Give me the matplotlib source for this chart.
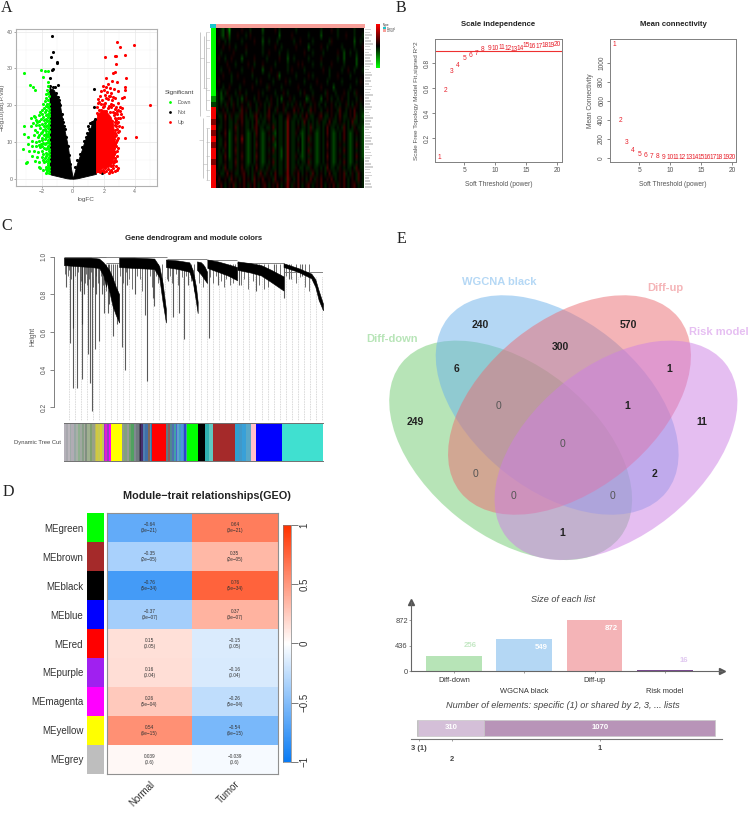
import numpy as np
import matplotlib
matplotlib.use('Agg')
import matplotlib.pyplot as plt
from matplotlib.colors import LinearSegmentedColormap, ListedColormap
from matplotlib.lines import Line2D
from matplotlib.patches import Ellipse
from matplotlib.transforms import ScaledTranslation

plt.rcParams['font.family'] = ['Liberation Sans', 'DejaVu Sans']

W, H = 753, 813

# A volcano, values
black_pts = [(-1.31,38.8),(-1.29,34.4),(-1.42,33.2),(-0.99,31.6),(-1.02,31.4),(-1.25,29.8),(-1.33,29.6),(-1.46,27.3),
             (-1.46,25.2),(-0.92,25.5),(-1.15,25),(-1.3,24.8),(-1.45,23.6),(-1.22,23),(-1.05,23.4),(-0.98,22.2),(-1.4,22),(-1.35,21.2),
             (-1.12,22.4),(-1.28,22.2),(-0.88,21.4),(-0.8,20),(-0.72,17.6),(-0.62,15.4),(-0.52,13.4),(-0.42,11.2),(-0.32,9),
             (-0.24,6.4),(-0.16,4),(-0.66,16.2),(-0.86,20.6),(-0.58,14.4),
             (1.4,24.3),(1.4,19.6),(0.97,14.3),(1.22,15.5),(1.1,15),(1.9,1.4),(1.35,15.6),(1.45,16.2),(0.9,12.4),(1.25,14.8),
             (0.75,10.2),(0.6,8.6),(0.45,6.6),(0.3,5),(0.18,3.2),(1.05,13.4),(0.85,11.4)]
green_pts = [(-3.12,28.6),(-2.06,29.6),(-1.57,29.4),(-1.78,29.2),(-1.89,27.6),(-1.6,26.2),(-2.75,25.4),(-2.56,25),(-2.43,24),
             (-1.6,25.1),(-1.68,24),(-1.62,23.4),(-1.75,23),(-1.55,22.6),(-1.7,22),(-1.58,21.4),(-1.8,21),(-1.9,20.4),(-1.64,20.2),
             (-3.14,14.3),(-3.14,12.1),(-2.88,11.2),(-3.2,8),(-3,4.3),(-2.92,4.6),(-2.7,16.4),(-2.5,17),(-2.42,16.8),(-2.35,16),(-2.55,15.2),
             (-2.7,14.2),(-2.4,14.6),(-2.2,17.2),(-2.1,18.2),(-2,18.8),(-1.85,19.2),(-1.7,18.6),(-1.6,19.6),(-1.55,18.4),(-1.95,17.6),
             (-1.75,17.4),(-1.6,16.8),(-2.05,16.2),(-1.85,16),(-1.65,15.6),(-1.55,15),(-1.95,14.8),(-2.2,14.6),(-1.75,14.4),(-1.6,13.8),
             (-2.1,13.8),(-1.9,13.2),(-1.7,13),(-1.55,12.6),(-2.3,12.8),(-2.05,12.4),(-1.85,12),(-1.65,11.6),(-2.5,11.8),(-2.25,11.4),
             (-2,11),(-1.8,10.8),(-1.58,10.6),(-2.6,10.2),(-2.35,10),(-2.15,10.2),(-1.9,9.8),(-1.7,9.6),(-1.55,9.2),(-2.65,9),(-2.4,8.8),
             (-2.1,8.6),(-1.85,8.4),(-1.65,8.2),(-2.8,7.6),(-2.5,7.4),(-2.25,7.2),(-2,7.4),(-1.75,7),(-1.55,6.8),(-2.6,6.2),(-2.3,5.8),
             (-2,6),(-1.8,5.6),(-1.62,5.4),(-2.45,4.8),(-2.15,4.6),(-1.85,4.4),(-1.58,4.2),(-2.2,3.2),(-2.1,3),(-1.75,3.2),(-1.58,2.8),
             (-1.9,2.4),(-1.65,2.2),(-1.55,1.6),(-1.7,1.4),(-2.3,15.4),(-2.15,15.6),(-1.72,16.2),(-1.8,13.6),(-1.6,12.2),(-1.7,11.4),
             (-1.55,8),(-1.72,6.2),(-1.55,5.8),(-1.62,3.6),(-1.6,17.6),(-1.7,19.8),(-1.52,20.4),(-2.9,9.4),(-2.45,13.2),(-2.2,9.2),
             (-1.52,19.2),(-1.56,17.6),(-1.8,18),(-1.9,16.8),(-1.52,16),(-1.78,15.2),(-1.62,14.6),(-1.52,14),(-1.88,14.2),(-1.72,12.2),
             (-1.52,11.4),(-1.95,10.4),(-1.62,10),(-1.52,10),(-1.8,9.4),(-1.62,9),(-1.95,8.8),(-1.75,8),(-1.52,7.4),(-1.9,6.8),(-1.65,6.6),
             (-1.52,4.8),(-1.7,4.8),(-1.9,5),(-1.52,3.2),(-1.7,2.6),(-1.52,2.4),(-2,12.8),(-2.15,11.8),(-1.52,13),(-2.05,9.4),(-1.52,17)]
red_pts = [(2.84,37.1),(3.97,36.4),(3.08,35.8),(3.36,33.5),(2.06,33.1),(2.7,33.3),(2.78,33.3),(2.8,31.3),(2.7,29),(2.62,28.6),
           (3.45,27.5),(2.18,27.3),(2.85,26.3),(2.55,26.5),(4.97,19.9),(4.1,11.3),(3.36,11),(3.4,25),(2.3,25.8),(2.15,25),(1.95,25.2),
           (2.4,24.6),(2.65,24.4),(2.05,24),(1.85,23.9),(2.2,23.6),(3.35,24),(2.9,23.8),(2.5,23.2),(1.75,22.6),(2.08,22.8),(2.35,22.4),
           (3.3,22.3),(3.2,22),(2.75,22),(1.65,21.6),(1.9,21.4),(2.25,21.6),(2.55,21.4),(1.6,20.6),(1.8,20.4),(2.1,20.6),(2.45,20.2),(2.9,20.6),
           (3.05,19.6),(3.2,19.2),(1.55,19.6),(1.95,19.4),(2.3,19.2),(2.7,19),(3.02,18.4),(1.7,18.6),(2.15,18.4),(2.6,18.2),(2.85,17.6),
           (3.25,16.8),(3.02,16.6),(2.72,16.4),(2.85,15.2),(3.0,14.4),(3.2,14),(2.7,14.6),(2.75,13.2),(2.9,12.6),(2.7,11.6),(2.85,10.4),
           (2.65,10),(2.8,9),(2.68,8.4),(2.75,7.2),(2.62,6.2),(2.75,5.6),(2.8,4.8),(2.68,4.4),(2.8,3.4),(2.85,2.4),(2.62,2.8),(2.45,3.4),
           (2.72,2),(2.4,2),(2.15,2.2),(2.0,1.8),(2.35,1.6),(2.55,1.8),(2.9,3),(2.7,15.4),(2.65,17.2),(2.75,17.8),(2.55,15.8),(2.62,12.4),
           (2.42,22.6),(2.6,22.2),(2.15,22),(1.72,20.8),(2,19.8),(2.5,19.4),(2.82,19.6),(2.95,18.8),(2.4,18.2),(2.85,18.4),(3.1,17.6),
           (2.9,16.4),(2.78,16),(2.95,15.4),(2.78,14.2),(2.88,13.6),(2.98,13),(2.72,12.4),(2.82,11.8),(2.95,11),(2.68,10.8),(2.78,10),
           (2.9,8.4),(2.72,9.4),(2.85,7.6),(2.68,6.8),(2.85,6.2),(2.72,5),(2.62,4.4),(2.62,3.6),(2.3,2.6),(2.5,2.4),(2.1,2.8),(1.85,2.2),
           (1.6,2),(1.75,1.8),(1.95,2.4),(2.35,19.8),(1.85,18.8),(1.55,17.8),(1.65,17.4),(2.05,20.2),(2.6,20)]
# dense parts of the clouds: x, upper edge, lower edge
black_left_x = [-1.5, -1.4, -1.3, -1.2, -1.1, -1.0, -0.9, -0.8, -0.7, -0.6, -0.5, -0.4, -0.3, -0.2, -0.1, 0.0]
black_left_hi = [25, 24.4, 24.4, 24, 23, 22.4, 21, 19.4, 16.8, 14.6, 12.6, 10.6, 8.4, 5.2, 2.6, 0.2]
black_left_lo = [1.3, 1.1, 1.0, 0.9, 0.8, 0.7, 0.6, 0.5, 0.4, 0.3, 0.2, 0.1, 0.05, 0.0, 0.0, 0.0]
black_right_x = [0.0, 0.1, 0.2, 0.3, 0.4, 0.5, 0.6, 0.7, 0.8, 0.9, 1.0, 1.1, 1.2, 1.3, 1.4, 1.5]
black_right_hi = [0.2, 1.5, 3, 4.4, 5.6, 6.8, 8, 9.4, 10.6, 11.8, 12.6, 13.4, 14.4, 15, 15.6, 16.2]
black_right_lo = [0.0, 0.0, 0.05, 0.1, 0.2, 0.3, 0.4, 0.5, 0.6, 0.7, 0.8, 0.9, 1.0, 1.1, 1.2, 1.3]
red_x = [1.5, 1.7, 1.9, 2.1, 2.3, 2.45, 2.6, 2.7]
red_hi = [16.2, 18, 18.8, 18.6, 17.6, 16.8, 15, 11]
red_lo = [1.6, 2.2, 2.8, 3, 3.2, 3.6, 5, 7]
volcano_xticks = [-2, 0, 2, 4]
volcano_yticks = [0, 10, 20, 30, 40]
significant = ['Down', 'Not', 'Up']

# A heatmap, read as coarse cells: G g , . ' r R  from green to red
heat_levels = {'G': -1.0, 'g': -0.55, ',': -0.24, '.': 0.0, "'": 0.22, 'r': 0.5, 'R': 0.95}
heat_rows = [
 "G..,g.,G.....'...,.....g.....'.,.......,...........,....'..,.......,....",
 "G..,g.'g...'...,.'.....,.......g.....'.......,.....g.......,...'...,...,",
 "G.'..,.,.....,.....'...g..,...,.......,..'.....,.......,'..........g..,.",
 "G...'..'..,....'.......,.....'..,......'.....g.....'..,......,.....,...'",
 "G..,.....'.....,.......,..'....,...,.......'...,....,......'..g..,..,...",
 "G.'..,..'....g.....'.....,.....'...g..,......,.....'.......,..g.....g...",
 "G.....'...,.....'..,...'.....,.....,....'.'....,...,....'.....,.....g...",
 "G..,...'.....,....'....g...'.......,.'.....,........'..,.....,..'..,...,",
 "G...'...,..'......,.......,...'g.......,.....'.,.......,...'.....,......",
 "G.'.....,.....'.....,.'.....,.....'.,......,.....'....,......,......,.'.",
 "G...,..'....,.....'......,'.....,.......'.....,....'.....g.......,......",
 "G,.g.,'...,.'..,.....'.,.....,...'.,.....,.'...,.....,'...,...'.,..,'...",
 "g,.g,..',..,.g.'...,.'...,.'..,.g...'.,.....g,.'...g..'.,..,.'..,...,.'.",
 ",,.,.,'.,'.,.'..,'..,.'.,.,'..,..'.,.,.'.,.'..,.'.,..,..'.,.,..',.,.'.,.",
 "R,..'.,..'..,r.'.,..,'..,.r..,'..',...r.'.,..,r.'..,..'.'..,r..,.'.r..,,",
 "R.,,.r.,'.,,'r.,.,,'r.,.,'r.,..,,..r'.,,.,'.r.,,..'r.,,.'.,.r.,,.'.r,.,g",
 "r..,.'.,,.,'.r.,,.,.r,.,,.'.,,.,,.,R.,,.,.,r.,.,.,'.,,.r.,,.'.,.,.r,,.,,",
 "R.,,.'.,,.r,.'.,,.,'r.,,.,,.r,.,,.,R.,,.'.,,.,r,.,,.,.r.,,.,.,r.,.,'.,,g",
 "r.,..r.g,.',.'.,g,.,r.,g,.'.,g.,,.,R.,,'.,g,.,'.,g,.,.r.,g,.,.r.,g,.'.,g",
 "R.,,.'.g,.r,.R.,g,.,'.,g,.,.r,.,,.,R.,,.,.g,.r,.,g,.,.'.,g,.,.r.,g,.,.,g",
 "r.,,.r.g,.',.'.,g,.,r.,g,.'.,g.,,.,R.,,.'.g,.,'.,g,.,.r.,g,.'.,.,g,.r.,g",
 "R.,.,'.g,.r,.'.,g,.,'.,g,.,.r,.,g.,R.,,.,.g,.r,.,g,.,.'.,g,.,.r.,g,.,.,g",
 "R.,,.r.g,.',.r.,g,.,r.,g,.'.,,.,g.,R.,,'.,g,.,'.,g,.,.r.,g,.'.,.,g,.r.,g",
 "r.,,.'.,,.r,.'.,g,.,'.,g,.,.r,.,,.,R.,,.,.,,.r,.,g,.,.'.,g,.,.r.,g,.,.,,",
 "R.,.,r.,,.',.r.,,.,.r.,,.,'.,,.,,.,R.,,'.,,.,,'.,,.,.,r.,,.,'.,.,,.,r.,,",
 "R'.,,.r.'.,,.'r.,.,'.,r.,'.,.r.,,.'R.,'.r.,.'.,r.,.'.,.r.,,.'.r,.,'.,r.,",
 "R.r..'.,r.'.,.r.'.,r.'.r..'.,r..'.,R'.,.r.'.,.r.,'.r..'.r.,.'.r.,.'.,r.,",
 "R'.r.,.'.r,.'.r.,'.r.,.'r.,.'.r.,.'R.,'.r.,.'r.,.'.r.,.'.r.,'.r.,.'r.,.,",
]
row_label_len = [6, 5, 7, 4, 6, 8, 5, 6, 4, 7, 5, 6, 8, 5, 4, 6, 7, 5, 6, 4, 7, 6, 5, 8, 4, 6, 5, 7, 6, 4,
                 5, 8, 6, 5, 7, 4, 6, 5, 7, 6, 8, 4, 5, 6, 7, 5, 4, 6, 8, 5, 6, 7, 4, 5, 6, 7]

# B soft threshold
powers = list(range(1, 21))
sft_r2 = [0.045, 0.58, 0.736, 0.786, 0.84, 0.866, 0.882, 0.912, 0.92, 0.917,
          0.928, 0.917, 0.912, 0.92, 0.944, 0.936, 0.936, 0.946, 0.946, 0.95]
mean_k = [1194, 390, 161, 74, 39, 21, 14, 10, 7, 5, 4, 3, 2.5, 2, 1.5, 1, 1, 1, 1, 1]

# C dendrogram: each cluster is x, top edge, bottom edge of the black band
clusters = [
    ([0, 40, 80, 105, 118, 126], [0.995, 0.995, 0.995, 0.99, 0.97, 0.95], [0.955, 0.95, 0.945, 0.94, 0.90, 0.84]),
    ([122, 135, 145, 155, 165], [0.96, 0.93, 0.89, 0.84, 0.80], [0.90, 0.82, 0.74, 0.69, 0.65]),
    ([165, 210, 270, 285, 295, 305], [0.995, 0.995, 0.99, 0.95, 0.86, 0.72], [0.945, 0.94, 0.935, 0.89, 0.76, 0.65]),
    ([305, 340, 375, 385, 395, 400], [0.985, 0.98, 0.97, 0.93, 0.84, 0.76], [0.945, 0.935, 0.92, 0.87, 0.76, 0.70]),
    ([398, 410, 420, 428], [0.975, 0.97, 0.95, 0.92], [0.93, 0.905, 0.88, 0.86]),
    ([429, 460, 490, 518], [0.985, 0.975, 0.96, 0.945], [0.94, 0.92, 0.90, 0.875]),
    ([519, 560, 590, 620, 657], [0.975, 0.965, 0.955, 0.93, 0.895], [0.93, 0.915, 0.90, 0.865, 0.82]),
    ([657, 700, 740, 752, 762, 775], [0.965, 0.94, 0.91, 0.88, 0.82, 0.75], [0.945, 0.92, 0.885, 0.84, 0.77, 0.715]),
]
branch_x = [6, 19, 26, 28, 38, 47, 53, 55, 59, 72, 78, 84, 92, 97, 105, 113, 121, 131, 135, 147, 160, 174, 182, 190, 211,
            243, 249, 268, 267, 312, 327, 345, 359, 372, 433, 462, 525, 575, 627, 657, 672, 712]
branch_h = [0.84, 0.54, 0.30, 0.62, 0.30, 0.82, 0.64, 0.35, 0.80, 0.48, 0.33, 0.18, 0.51, 0.80, 0.55, 0.80, 0.70, 0.70,
            0.75, 0.58, 0.64, 0.52, 0.40, 0.85, 0.80, 0.69, 0.34, 0.74, 0.78, 0.87, 0.68, 0.70, 0.56, 0.85, 0.57, 0.85,
            0.85, 0.82, 0.87, 0.78, 0.88, 0.90]
# short drops that fringe the bands
fringe_x = [3, 11, 15, 22, 33, 42, 50, 63, 67, 70, 76, 81, 88, 95, 101, 110, 116, 125, 140, 153, 169, 178, 186, 195, 203, 218,
            226, 234, 256, 262, 275, 282, 293, 309, 316, 322, 335, 341, 352, 366, 380, 390, 404, 416, 436, 445, 455, 470,
            478, 486, 497, 505, 512, 530, 540, 552, 566, 583, 597, 610, 634, 645, 664, 680, 695, 705, 722, 733]
fringe_h = [0.91, 0.9, 0.93, 0.88, 0.9, 0.92, 0.87, 0.86, 0.91, 0.85, 0.88, 0.92, 0.84, 0.9, 0.86, 0.9, 0.85, 0.82, 0.8,
            0.76, 0.9, 0.86, 0.92, 0.88, 0.83, 0.9, 0.88, 0.82, 0.9, 0.84, 0.9, 0.86, 0.8, 0.88, 0.9, 0.86, 0.91, 0.85, 0.89,
            0.9, 0.87, 0.82, 0.86, 0.84, 0.89, 0.86, 0.9, 0.87, 0.84, 0.88, 0.85, 0.86, 0.88, 0.85, 0.88, 0.83, 0.87, 0.85,
            0.83, 0.84, 0.87, 0.85, 0.9, 0.88, 0.86, 0.89, 0.84, 0.82]
# merge lines across the top: x start, x end, height
merge_x0 = [0, 127, 105, 307, 429, 519, 657]
merge_x1 = [127, 165, 307, 429, 519, 657, 775]
merge_h = [0.998, 0.968, 0.998, 0.99, 0.98, 0.968, 0.92]
module_widths = [6, 5, 6, 5, 7, 5, 7, 6, 5, 6, 5, 5, 8, 6, 8, 5, 6, 6, 6, 5, 3, 5, 5, 2, 5, 31, 8, 7, 7, 7, 8, 7, 8, 2, 3, 5, 8, 8, 5, 5, 2, 41,
           5, 6, 5, 6, 6, 5, 6, 5, 5, 5, 4, 3, 32, 22, 11, 12, 65, 11, 10, 12, 12, 15, 78, 120]
module_colors = ['#b4b0b8', '#a8a8ae', '#bab6bc', '#a0aaa8', '#b0acb4', '#98a8a4', '#a8b0a8', '#90b090', '#a0a8a0',
                 '#88a088', '#a8a8a0', '#809080', '#a0b090', '#80a070', '#98a088', '#b8b860', '#d0c840', '#c8c850', '#d8d820', '#c0c860',
                 '#a030d0', '#e020d0', '#9040c0', '#e030e0', '#ff00ff', '#ffff00', '#909890', '#80a080', '#989898', '#70a070',
                 '#50a060', '#808890', '#707880', '#505060', '#302040', '#483070', '#5080b0', '#4070a8', '#806858', '#4890b8', '#3070a0', '#ff0000',
                 '#607880', '#905858', '#508890', '#5070b0', '#40a0a8', '#5060d0', '#60a0d0', '#40a0c0', '#5090e0', '#4090c0', '#3040d0', '#40a0a0', '#00ff00',
                 '#000000', '#30b0b0', '#60c8c0', '#a52a2a', '#30a0d0', '#4098c8', '#38a0d8', '#58a8c8', '#ffc0cb', '#0000ff', '#40e0d0']

# D module-trait table
modules = ['MEgreen', 'MEbrown', 'MEblack', 'MEblue', 'MEred', 'MEpurple', 'MEmagenta', 'MEyellow', 'MEgrey']
strip_colors = ['#00ff00', '#a52a2a', '#000000', '#0000ff', '#ff0000', '#a020f0', '#ff00ff', '#ffff00', '#bebebe']
traits = ['Normal', 'Tumor']
cor_normal = [-0.64, -0.35, -0.76, -0.37, 0.15, 0.16, 0.26, 0.54, 0.039]
cor_tumor = [0.64, 0.35, 0.76, 0.37, -0.15, -0.16, -0.26, -0.54, -0.039]
pvalues = ['3e\u221221', '2e\u221205', '5e\u221234', '3e\u221207', '0.05', '0.04', '5e\u221204', '6e\u221215', '0.6']
cbar_ticks = [-1, -0.5, 0, 0.5, 1]

# E venn
venn_names = ['Diff-down', 'WGCNA black', 'Diff-up', 'Risk model']
venn_counts = [249, 240, 570, 11, 6, 300, 1, 0, 1, 0, 0, 2, 0, 0, 1]
venn_count_x = [197, 390, 835, 1055, 319, 630, 958, 445, 832, 638, 376, 912, 490, 787, 638]
venn_count_y = [575, 284, 284, 575, 418, 350, 418, 529, 529, 641, 731, 731, 798, 798, 909]
list_sizes = [256, 549, 872, 16]
shared_labels = ['3 (1)', '2', '1']
shared_counts = [1, 310, 1070]


def add_ax(x0, y0, x1, y1):
    return fig.add_axes([x0 / W, 1 - y1 / H, (x1 - x0) / W, (y1 - y0) / H])


def put(x, y, s, **kw):
    kw.setdefault('ha', 'center')
    kw.setdefault('va', 'center')
    fig.text(x / W, 1 - y / H, s, **kw)


def r_axes(ax, color='#808080'):
    for s in ax.spines.values():
        s.set_color(color)
        s.set_linewidth(0.7)
    ax.tick_params(colors='#555555', labelsize=4.8, width=0.5, length=2, pad=1.5)
    for lab in ax.get_yticklabels():
        lab.set_rotation(90)
        lab.set_va('center')


fig = plt.figure(figsize=(W / 100, H / 100), dpi=100)

for letter, x, y in [('A', 7, 8), ('B', 401, 8), ('C', 7, 226), ('D', 8, 492), ('E', 401, 239)]:
    put(x, y, letter, family='Liberation Serif', fontsize=11.5, color='#222222')

# ---- A volcano
ax = add_ax(16, 29, 157, 186)
ax.set_xlim(-3.66, 5.44)
ax.set_ylim(-2, 40.7)
ax.set_xticks(volcano_xticks)
ax.set_yticks(volcano_yticks)
ax.set_xticks([-3, -1, 1, 3, 5], minor=True)
ax.set_yticks([5, 15, 25, 35], minor=True)
ax.grid(True, which='major', color='#e8e8e8', lw=0.5)
ax.grid(True, which='minor', color='#f2f2f2', lw=0.3)
ax.set_axisbelow(True)
ax.fill_between(black_left_x, black_left_lo, black_left_hi, color='black', lw=0.6, zorder=2)
ax.fill_between(black_right_x, black_right_lo, black_right_hi, color='black', lw=0.6, zorder=2)
ax.fill_between(red_x, red_lo, red_hi, color='#ff0000', lw=0.6, zorder=2)
for pts, c in [(black_pts, 'black'), (green_pts, '#00ff00'), (red_pts, '#ff0000')]:
    p = np.array(pts)
    ax.scatter(p[:, 0], p[:, 1], s=5, c=c, lw=0, zorder=3)
for s in ax.spines.values():
    s.set_color('#b0b0b0')
    s.set_linewidth(0.8)
ax.tick_params(which='major', colors='#666666', labelsize=3.8, width=0.4, length=1.5, pad=1)
ax.tick_params(which='minor', length=0)
ax.set_xlabel('logFC', fontsize=4.6, color='#555555', labelpad=1.5)
ax.set_ylabel('\u2212log10(adj.P.Val)', fontsize=4.6, color='#555555')
ax.yaxis.set_label_coords(-0.078, 0.5)
handles = [Line2D([], [], ls='', marker='o', ms=2, mec='none', mfc=c) for c in ['#00ff00', 'black', '#ff0000']]
leg = fig.legend(handles, significant, title='Significant', loc='upper left', bbox_to_anchor=(165 / W, 1 - 90 / H),
                 frameon=False, fontsize=3.8, title_fontsize=4.6, labelspacing=0.95, handletextpad=0.3,
                 borderpad=0, borderaxespad=0, labelcolor='#555555')
leg._legend_box.align = 'left'
leg.get_title().set_color('#444444')

# ---- A heatmap
ax = add_ax(210, 24.3, 364, 27.7)
ax.imshow([[0] * 1 + [1] * 25], aspect='auto', cmap=ListedColormap(['#19c5cc', '#f8a09a']))
ax.axis('off')
heat = np.array([[heat_levels[c] for c in row[:72].ljust(72, '.')] for row in heat_rows])
heat_cmap = LinearSegmentedColormap.from_list('gbr', ['#00ff00', '#000000', '#ff0000'])
ax = add_ax(211, 28, 216, 188.3)
ax.imshow(heat[:, :1], aspect='auto', cmap=heat_cmap, vmin=-1, vmax=1, interpolation='nearest')
ax.axis('off')
ax = add_ax(216, 28, 364, 188.3)
ax.imshow(heat[:, 1:], aspect='auto', cmap=heat_cmap, vmin=-2, vmax=2, interpolation='bilinear')
ax.axis('off')
ax = add_ax(365, 28, 373, 188.3)
ax.barh(range(len(row_label_len)), row_label_len, height=0.55, color='#d2d2d2')
ax.set_xlim(0, 8)
ax.set_ylim(len(row_label_len) - 0.5, -0.5)
ax.axis('off')
# row tree
ax = add_ax(199, 28, 210, 188.3)
ax.set_xlim(0, 11)
ax.set_ylim(160, 0)
ax.hlines([4, 12, 20, 34, 50, 62, 72, 82, 88, 100, 114, 128, 142, 152], 7, 11, color='#c0c0c0', lw=0.4)
ax.hlines([30, 112, 60, 136], [1, 0, 4, 4], [5, 4, 8, 8], color='#b8b8b8', lw=0.4)
ax.vlines([1, 5, 7, 4, 8], [4, 8, 4, 90, 100], [88, 60, 82, 150, 152], color='#b0b0b0', lw=0.5)
ax.axis('off')
ax = add_ax(376, 24, 380, 68)
ax.imshow(np.linspace(1, -1, 50).reshape(-1, 1), aspect='auto', cmap=heat_cmap)
ax.axis('off')
put(383, 25, 'Type', fontsize=2.2, color='#333333', ha='left')
ax = add_ax(383, 27, 386, 32.5)
ax.imshow([[0], [1]], aspect='auto', cmap=ListedColormap(['#19c5cc', '#f8a09a']))
ax.axis('off')
put(387, 28.5, 'Normal', fontsize=2, color='#555555', ha='left')
put(387, 31, 'Tumor', fontsize=2, color='#555555', ha='left')

# ---- B
ax = add_ax(435.3, 39.3, 561.7, 162.3)
ax.set_xlim(0.32, 20.7)
ax.set_ylim(0.008, 0.992)
for p, v in zip(powers, sft_r2):
    ax.text(p, v, str(p), color='#e8212c', fontsize=4.8, ha='center', va='center')
ax.axhline(0.9, color='#ee3030', lw=0.8)
ax.set_xticks([5, 10, 15, 20])
ax.set_yticks([0.2, 0.4, 0.6, 0.8])
r_axes(ax)
ax.set_title('Scale independence', fontsize=5.6, fontweight='bold', color='#222222', pad=9.5)
ax.set_xlabel('Soft Threshold (power)', fontsize=4.8, color='#555555', labelpad=5)
ax.set_ylabel('Scale Free Topology Model Fit,signed R^2', fontsize=4.6, color='#555555', labelpad=3)

ax = add_ax(610, 39.3, 736.3, 162.3)
ax.set_xlim(0.27, 20.7)
ax.set_ylim(-48, 1246)
for p, v in zip(powers, mean_k):
    ax.text(p, v, str(p), color='#e8212c', fontsize=4.8, ha='center', va='center')
ax.set_xticks([5, 10, 15, 20])
ax.set_yticks([0, 200, 400, 600, 800, 1000])
r_axes(ax)
ax.set_title('Mean connectivity', fontsize=5.6, fontweight='bold', color='#222222', pad=9.5)
ax.set_xlabel('Soft Threshold (power)', fontsize=4.8, color='#555555', labelpad=5)
ax.set_ylabel('Mean Connectivity', fontsize=4.8, color='#555555', labelpad=3)

# ---- C dendrogram
ax = add_ax(64, 252, 323, 420.7)
ax.set_xlim(0, 775)
ax.set_ylim(0.128, 1.025)
ax.vlines(np.arange(15, 775, 18), 0.128, 0.9, color='#b4b4b4', lw=0.5, linestyles=(0, (1, 1.4)), zorder=1)
ax.vlines(branch_x, branch_h, 0.96, color='#333333', lw=0.8, alpha=0.8, zorder=2)
ax.vlines(fringe_x, fringe_h, 0.96, color='#333333', lw=0.7, alpha=0.7, zorder=2)
for bx, top, low in clusters:
    ax.fill_between(bx, low, top, color='black', lw=0.4, zorder=3)
ax.hlines(merge_h, merge_x0, merge_x1, color='#707070', lw=0.6, zorder=2)
ax.vlines([775], [0.72], [0.92], color='#707070', lw=0.6)
for name in ['top', 'right', 'bottom']:
    ax.spines[name].set_visible(False)
ax.spines['left'].set_position(('outward', 7))
ax.spines['left'].set_bounds(0.2, 1.0)
ax.spines['left'].set_color('#808080')
ax.spines['left'].set_linewidth(0.7)
ax.set_xticks([])
ax.set_yticks([0.2, 0.4, 0.6, 0.8, 1.0])
ax.tick_params(colors='#555555', labelsize=4.8, width=0.5, length=3, pad=1.5)
for lab in ax.get_yticklabels():
    lab.set_rotation(90)
    lab.set_va('center')
ax.set_ylabel('Height', fontsize=4.8, color='#555555', labelpad=3.5)
put(193.3, 238, 'Gene dendrogram and module colors', fontsize=5.6, fontweight='bold', color='#222222')

ax = add_ax(64, 423.3, 323, 461.3)
ax.bar(np.cumsum([0] + module_widths[:-1]), 1, width=module_widths, align='edge', color=module_colors, lw=0)
ax.set_xlim(0, sum(module_widths))
ax.set_ylim(0, 1)
ax.set_xticks([])
ax.set_yticks([])
for name in ['left', 'right']:
    ax.spines[name].set_visible(False)
for name in ['top', 'bottom']:
    ax.spines[name].set_color('#707070')
    ax.spines[name].set_linewidth(0.7)
put(61.5, 442.7, 'Dynamic Tree Cut', fontsize=4.2, color='#444444', ha='right')

# ---- D module trait
bwr = LinearSegmentedColormap.from_list('bwr2', ['#0a7cf5', '#ffffff', '#ff3300'])
ax = add_ax(106.7, 513.3, 277.7, 773.7)
table = np.column_stack([cor_normal, cor_tumor])
ax.pcolormesh(table, cmap=bwr, vmin=-1, vmax=1)
ax.set_ylim(len(modules), 0)
ax.set_yticks([])
ax.set_xticks([0.5, 1.5])
ax.set_xticklabels(traits, rotation=45, ha='right', va='top', fontsize=7, color='#333333', rotation_mode='anchor')
ax.tick_params(axis='x', length=0, pad=4)
for s in ax.spines.values():
    s.set_color('#909090')
    s.set_linewidth(0.8)
for i in range(len(modules)):
    for j, cors in enumerate([cor_normal, cor_tumor]):
        txt = str(cors[i]).replace('-', '\u2212') + '\n(' + pvalues[i] + ')'
        ax.text(j + 0.5, i + 0.5, txt, fontsize=3.4, color='#333333', ha='center', va='center', linespacing=1.25)

ax = add_ax(87.3, 513.3, 104, 773.7)
ax.bar(0, 1, bottom=range(len(modules)), width=1, color=strip_colors, lw=0)
ax.set_xlim(-0.5, 0.5)
ax.set_ylim(len(modules), 0)
ax.set_xticks([])
ax.set_yticks(np.arange(len(modules)) + 0.5)
ax.set_yticklabels(modules, fontsize=7, color='#333333')
ax.tick_params(axis='y', length=0, pad=3)
for s in ax.spines.values():
    s.set_visible(False)

ax = add_ax(283.3, 525, 290.7, 761.7)
ax.imshow(np.linspace(1, -1, 200).reshape(-1, 1), aspect='auto', cmap=bwr, extent=[0, 1, -1, 1])
ax.set_xticks([])
ax.yaxis.tick_right()
ax.set_yticks(cbar_ticks)
ax.set_yticklabels(['\u22121', '\u22120.5', '0', '0.5', '1'], rotation=90, va='center', fontsize=7, color='#333333')
ax.tick_params(axis='y', length=5, width=0.5, pad=1.5, color='#444444')
for s in ax.spines.values():
    s.set_color('#808080')
    s.set_linewidth(0.5)
put(206.7, 496, 'Module\u2212trait relationships(GEO)', fontsize=7.8, fontweight='bold', color='#222222')

# ---- E venn, drawn in the 3x zoom coordinates of the panel
ax = add_ax(350, 230, 753, 570)
ax.set_xlim(0, 1209)
ax.set_ylim(1020, 0)
ax.axis('off')
venn_colors = ['#71cb71', '#6bb1eb', '#eb6b71', '#cd7fe5']
label_colors = ['#b8e5b8', '#b5d8f5', '#f5b5b8', '#e6bff2']
centers = [(482, 661), (621.5, 525), (658.5, 525), (798, 661)]
angles = [38.6, 38.6, -38.6, -38.6]
for c, ang, col in zip(centers, angles, venn_colors):
    ax.add_patch(Ellipse(c, 838, 512, angle=ang, facecolor=col, edgecolor='none', alpha=0.5))
for name, x, y, col in zip(venn_names, [125, 448, 945, 1105], [328, 155, 173, 306], label_colors):
    ax.text(x, y, name, color=col, fontsize=8, fontweight='bold', ha='center', va='center')
for n, x, y in zip(venn_counts, venn_count_x, venn_count_y):
    ax.text(x, y, str(n), fontsize=7.5, ha='center', va='center', color='#222222' if n else '#555555',
            fontweight='bold' if n else 'normal')

# size of each list
ax = add_ax(411.3, 601.7, 721.7, 671)
ax.set_xlim(-0.604, 3.808)
ax.set_ylim(0, 1185)
bars = ax.bar(range(4), list_sizes, width=0.79, color=venn_colors, alpha=0.5, lw=0)
ax.bar(3, list_sizes[3], width=0.79, color='#7a4a90', lw=0)
ax.set_xticks(range(4))
ax.set_xticklabels(venn_names, fontsize=5.4, color='#333333')
for tick, pad in zip(ax.xaxis.get_major_ticks(), [3, 10.5, 3, 10.5]):
    tick.set_pad(pad)
ax.set_yticks([0, 436, 872])
ax.set_yticklabels(['0', '436', '872'], fontsize=5.4, color='#444444')
ax.tick_params(axis='both', length=1.5, width=0.5, color='#777777')
ax.tick_params(axis='y', pad=1)
ax.spines['top'].set_visible(False)
ax.spines['right'].set_visible(False)
for name in ['left', 'bottom']:
    ax.spines[name].set_color('#666666')
    ax.spines[name].set_linewidth(0.8)
ax.plot(1, 0, '>', color='#555555', ms=4, transform=ax.transAxes, clip_on=False)
ax.plot(0, 1, '^', color='#555555', ms=4, transform=ax.transAxes, clip_on=False)
label_x = [0.23, 1.24, 2.24, 3.27]
label_y = [433, 405, 730, 171]
label_c = ['#c4e8c4', '#ffffff', '#ffffff', '#e0c8f0']
for x, y, n, c in zip(label_x, label_y, list_sizes, label_c):
    ax.text(x, y, str(n), fontsize=5.6, color=c, ha='center', va='center', fontweight='bold')
put(563.3, 599, 'Size of each list', fontsize=6.6, style='italic', color='#444444')
put(563.3, 705.7, 'Number of elements: specific (1) or shared by 2, 3, ... lists', fontsize=6.6, style='italic', color='#444444')

# shared elements bar
ax = add_ax(411.3, 718.3, 722.3, 739)
ax.set_xlim(-27.8, 1414)
ax.set_ylim(0, 62)
left = 0
for n, c in zip(shared_counts, ['#706070', '#d4bfd8', '#b894b8']):
    ax.barh(34, n + (4 if n == 1 else 0), left=left, height=48, color=c, edgecolor='#c8c8c8', lw=0.5)
    if n > 1:
        ax.text(left + n / 2, 34, str(n), color='white', fontsize=5.6, fontweight='bold', ha='center', va='center')
    left += n
ax.set_yticks([])
ax.set_xticks([6, 160, 846])
ax.set_xticklabels(shared_labels, fontsize=5.4, color='#444444', fontweight='bold')
for tick, pad in zip(ax.xaxis.get_major_ticks(), [3, 11, 3]):
    tick.set_pad(pad)
first = ax.get_xticklabels()[0]
first.set_transform(first.get_transform() + ScaledTranslation(5.3 / 100, 0, fig.dpi_scale_trans))
ax.tick_params(axis='x', length=1.5, width=0.5, color='#777777')
for name in ['top', 'left', 'right']:
    ax.spines[name].set_visible(False)
ax.spines['bottom'].set_color('#777777')
ax.spines['bottom'].set_linewidth(0.8)

fig.savefig('out.png', dpi=100)
